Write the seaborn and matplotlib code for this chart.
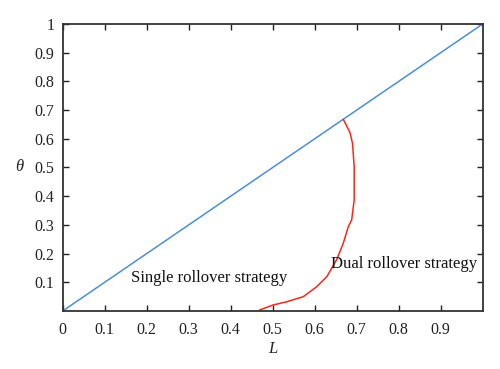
import matplotlib
matplotlib.use("Agg")
import matplotlib.pyplot as plt
import seaborn as sns
import numpy as np
import pandas as pd

# Data
diag_L = [0.0, 1.0]
diag_theta = [0.0, 1.0]

curve_L = [0.668, 0.684, 0.690, 0.694, 0.694, 0.688, 0.680, 0.668, 0.652,
           0.629, 0.605, 0.573, 0.533, 0.501, 0.468]
curve_theta = [0.668, 0.622, 0.584, 0.503, 0.387, 0.317, 0.294, 0.236, 0.178,
               0.120, 0.085, 0.050, 0.032, 0.021, 0.003]

x_ticks = [0, 0.1, 0.2, 0.3, 0.4, 0.5, 0.6, 0.7, 0.8, 0.9]
y_ticks = [0.1, 0.2, 0.3, 0.4, 0.5, 0.6, 0.7, 0.8, 0.9, 1]

sns.set_style("white")
plt.rcParams['font.family'] = ['Liberation Serif', 'DejaVu Serif']
plt.rcParams['mathtext.fontset'] = 'stix'

fig = plt.figure(figsize=(5, 3.69), dpi=100)
ax = fig.add_axes([0.1254, 0.1572, 0.84, 0.7778])

diag = pd.DataFrame({"L": diag_L, "theta": diag_theta})
curve = pd.DataFrame({"L": curve_L, "theta": curve_theta})

sns.lineplot(data=diag, x="L", y="theta", ax=ax, color="#4a8fd6", lw=1.1,
             sort=False, estimator=None)
sns.lineplot(data=curve, x="L", y="theta", ax=ax, color="#f5291b", lw=1.1,
             sort=False, estimator=None)

ax.set_xlim(0, 1)
ax.set_ylim(0, 1)
ax.set_xticks(x_ticks)
ax.set_yticks(y_ticks)
ax.set_xticklabels([f"{t:g}" for t in x_ticks])
ax.set_yticklabels([f"{t:g}" for t in y_ticks])
ax.tick_params(direction="in", length=4, width=1, colors="#222222", labelsize=11.5,
               top=True, right=True, bottom=True, left=True, pad=6)
ax.tick_params(axis='x', pad=8)
for s in ax.spines.values():
    s.set_color("#333333")
    s.set_linewidth(1.3)

ax.set_xlabel("L", fontstyle="italic", fontsize=12, labelpad=2)
ax.set_ylabel("θ", fontstyle="italic", fontsize=12, rotation=0, labelpad=11, va="center")

ax.text(0.163, 0.102, "Single rollover strategy", fontsize=12, color="#111111")
ax.text(0.638, 0.15, "Dual rollover strategy", fontsize=12, color="#111111")

fig.savefig("out.png", dpi=100)
